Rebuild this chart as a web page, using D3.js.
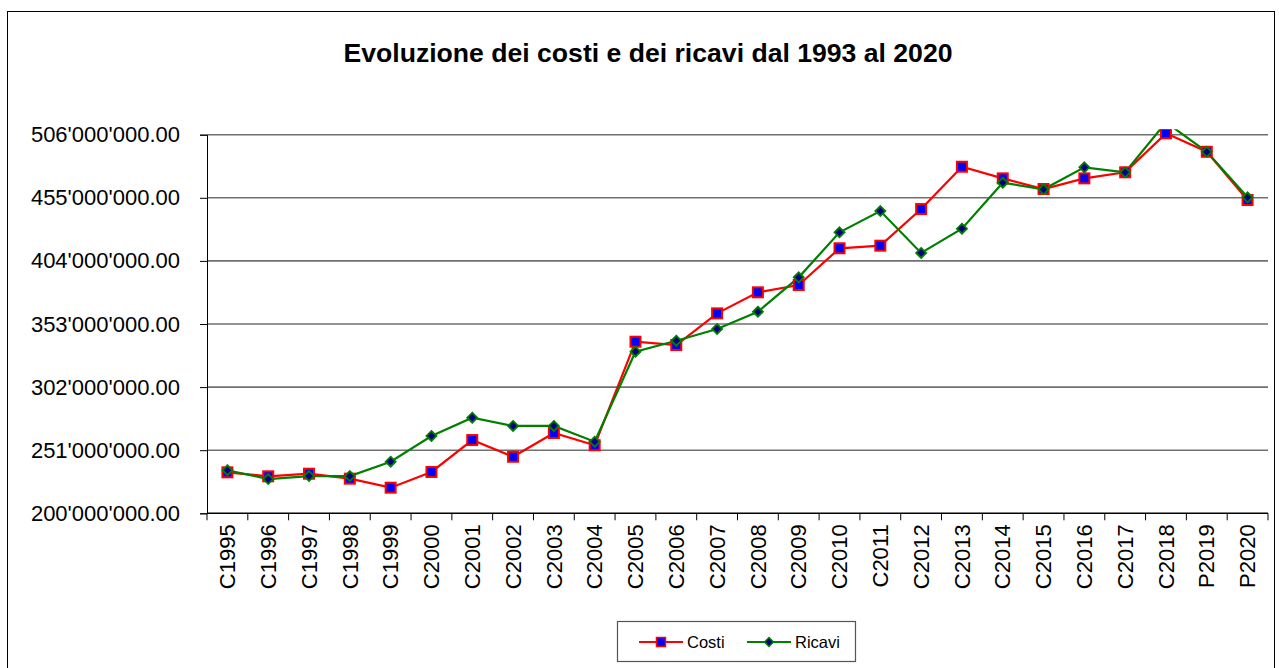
<!DOCTYPE html>
<html>
<head>
<meta charset="utf-8">
<script src="https://cdn.jsdelivr.net/npm/d3@7"></script>
<style>
  html, body { margin: 0; padding: 0; background: #fff; }
  svg { display: block; font-family: "Liberation Sans", Arial, sans-serif; }
</style>
</head>
<body>
<svg id="chart" width="1279" height="668"></svg>
<script>
const title = "Evoluzione dei costi e dei ricavi dal 1993 al 2020";
const categories = ["C1995","C1996","C1997","C1998","C1999","C2000","C2001","C2002","C2003","C2004","C2005","C2006","C2007","C2008","C2009","C2010","C2011","C2012","C2013","C2014","C2015","C2016","C2017","C2018","P2019","P2020"];
// values in euro
const costi = [233.1e6,229.9e6,232.0e6,228.0e6,220.7e6,233.4e6,259.2e6,245.7e6,264.9e6,255.0e6,338.7e6,336.0e6,361.6e6,378.6e6,384.5e6,414.2e6,416.3e6,445.9e6,480.1e6,470.7e6,462.1e6,470.7e6,475.6e6,507.1e6,492.2e6,453.2e6];
const ricavi = [234.8e6,227.7e6,230.1e6,230.1e6,241.7e6,262.5e6,277.3e6,270.6e6,270.6e6,257.9e6,330.6e6,339.5e6,349.0e6,362.9e6,390.7e6,427.1e6,444.3e6,410.4e6,430.0e6,467.2e6,461.9e6,479.6e6,475.6e6,516.0e6,492.2e6,455.4e6];
const yTicks = [200e6,251e6,302e6,353e6,404e6,455e6,506e6];
const seriesNames = ["Costi","Ricavi"];

const svg = d3.select("#chart");
const plot = {left: 207, right: 1268, top: 134.7, bottom: 513.3};

// outer chart border
svg.append("rect").attr("x",7.5).attr("y",11.5).attr("width",1267).attr("height",700)
  .attr("fill","none").attr("stroke","#000").attr("stroke-width",1);

svg.append("text").attr("x",648).attr("y",61.5).attr("text-anchor","middle")
  .attr("font-size",26.6).attr("font-weight","bold").attr("fill","#000").text(title);

const x = d3.scaleBand().domain(categories).range([plot.left, plot.right]);
const y = d3.scaleLinear().domain([yTicks[0], yTicks[yTicks.length-1]]).range([plot.bottom, plot.top]);

const loc = d3.formatLocale({decimal: ".", thousands: "'", grouping: [3], currency: ["",""]});
const fmt = loc.format(",.2f");

// gridlines
svg.append("g").selectAll("line").data(yTicks.slice(1)).join("line")
  .attr("x1",plot.left).attr("x2",plot.right)
  .attr("y1",d=>y(d)).attr("y2",d=>y(d))
  .attr("stroke","#707070").attr("stroke-width",1.6);

// y axis
const yAxis = d3.axisLeft(y).tickValues(yTicks).tickFormat(fmt).tickSize(7).tickPadding(20);
const gy = svg.append("g").attr("transform",`translate(${plot.left},0)`).call(yAxis);
gy.select(".domain").attr("stroke","#000");
gy.selectAll(".tick line").attr("stroke","#000");
gy.selectAll(".tick text").attr("font-size",22).attr("fill","#000").attr("font-family","Liberation Sans, Arial, sans-serif");

// x axis line and ticks between categories
const gx = svg.append("g");
gx.append("line").attr("x1",plot.left).attr("x2",plot.right).attr("y1",plot.bottom).attr("y2",plot.bottom)
  .attr("stroke","#000").attr("stroke-width",1.5);
const bounds = categories.map(c=>x(c)).concat([x(categories[categories.length-1]) + x.bandwidth()]);
gx.selectAll("line.tk").data(bounds).join("line").attr("class","tk")
  .attr("x1",d=>d).attr("x2",d=>d).attr("y1",plot.bottom).attr("y2",plot.bottom+7)
  .attr("stroke","#000");
gx.selectAll("text").data(categories).join("text")
  .attr("transform",d=>`translate(${x(d)+x.bandwidth()/2},${plot.bottom+11}) rotate(-90)`)
  .attr("text-anchor","end").attr("dy","0.35em")
  .attr("font-size",22).attr("fill","#000").text(d=>d);

// clip (lines may extend a bit above the top of the plot)
svg.append("clipPath").attr("id","clip").append("rect")
  .attr("x",plot.left).attr("y",plot.top-5.4).attr("width",plot.right-plot.left).attr("height",plot.bottom-plot.top+5.4);

const cx = c => x(c) + x.bandwidth()/2;
const line = d3.line().x((d,i)=>cx(categories[i])).y(d=>y(d));
const g = svg.append("g").attr("clip-path","url(#clip)");

g.append("path").datum(costi).attr("d",line).attr("fill","none").attr("stroke","#ff0000").attr("stroke-width",2.2);
g.append("path").datum(ricavi).attr("d",line).attr("fill","none").attr("stroke","#008000").attr("stroke-width",2.2);

const sq = 10;
g.selectAll("rect.c").data(costi).join("rect").attr("class","c")
  .attr("x",(d,i)=>cx(categories[i])-sq/2).attr("y",d=>y(d)-sq/2)
  .attr("width",sq).attr("height",sq)
  .attr("fill","#0000ff").attr("stroke","#ff0000").attr("stroke-width",2);

const dia = d3.symbol().type(d3.symbolDiamond2).size(64);
g.selectAll("path.r").data(ricavi).join("path").attr("class","r")
  .attr("transform",(d,i)=>`translate(${cx(categories[i])},${y(d)})`)
  .attr("d",dia).attr("fill","#000080").attr("stroke","#008000").attr("stroke-width",1.8);

// legend
const lg = svg.append("g");
lg.append("rect").attr("x",617.5).attr("y",621.5).attr("width",238).attr("height",40)
  .attr("fill","#fff").attr("stroke","#555").attr("stroke-width",1.2);
const legItems = [
  {name: seriesNames[0], color:"#ff0000", x0:639},
  {name: seriesNames[1], color:"#008000", x0:747}
];
const ly = 642;
legItems.forEach((it, k) => {
  lg.append("line").attr("x1",it.x0).attr("x2",it.x0+44).attr("y1",ly).attr("y2",ly)
    .attr("stroke",it.color).attr("stroke-width",2.2);
  if (k === 0) {
    lg.append("rect").attr("x",it.x0+22-4.5).attr("y",ly-4.5).attr("width",9).attr("height",9)
      .attr("fill","#0000ff").attr("stroke","#ff0000").attr("stroke-width",1.5);
  } else {
    lg.append("path").attr("transform",`translate(${it.x0+22},${ly})`).attr("d",d3.symbol().type(d3.symbolDiamond2).size(50))
      .attr("fill","#000080").attr("stroke","#008000").attr("stroke-width",1.5);
  }
  lg.append("text").attr("x",it.x0+48).attr("y",ly).attr("dy","0.35em")
    .attr("font-size",16.5).attr("fill","#000").text(it.name);
});
</script>
</body>
</html>
